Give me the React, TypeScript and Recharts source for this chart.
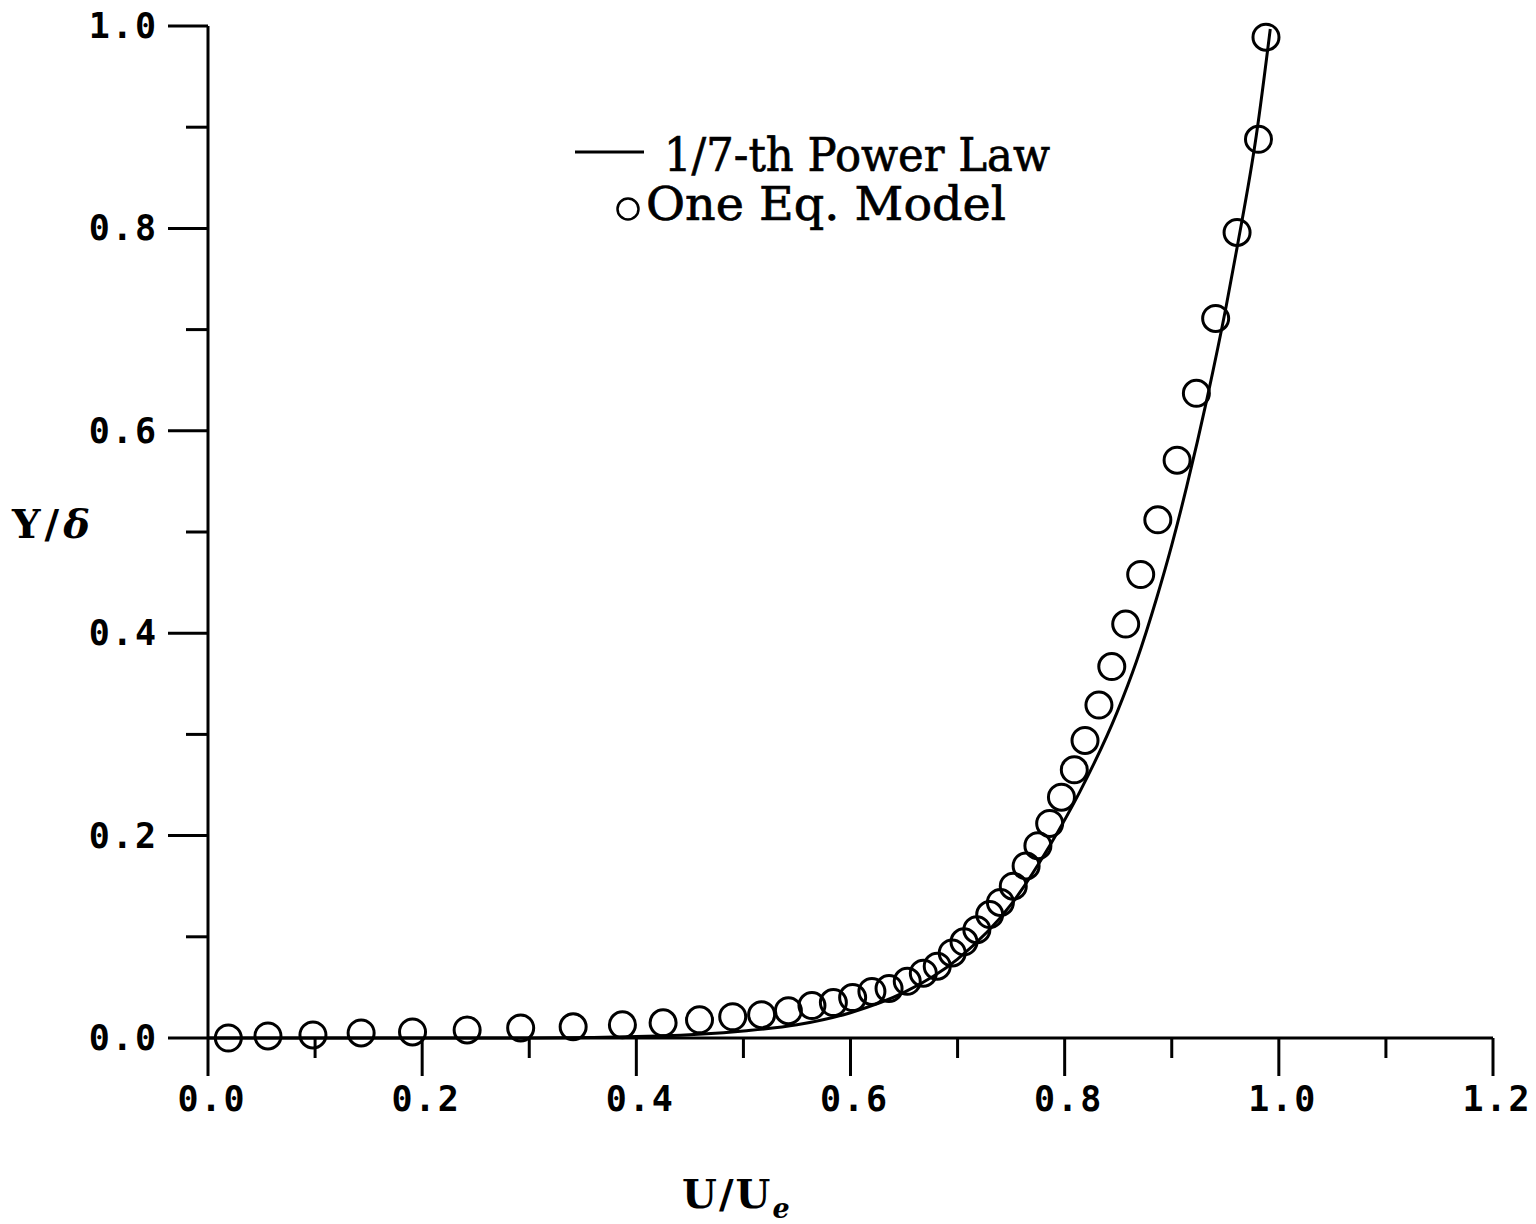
import { ComposedChart, Line, Scatter, XAxis, YAxis, Legend } from 'recharts';

// 1/7-th power law curve
const lawU = [0, 0.3, 0.42, 0.5, 0.55, 0.6, 0.65, 0.7, 0.75, 0.786, 0.814, 0.849, 0.867, 0.886, 0.9, 0.914, 0.933, 0.951, 0.961, 0.979, 0.992];
const lawY = [0, 0, 0.002, 0.007, 0.013, 0.025, 0.045, 0.078, 0.132, 0.19, 0.243, 0.322, 0.372, 0.435, 0.487, 0.545, 0.632, 0.724, 0.781, 0.892, 0.997];

// one equation model (circles)
const modelU = [
  0.019, 0.056, 0.098, 0.143, 0.191, 0.242, 0.292, 0.341, 0.387, 0.425,
  0.459, 0.49, 0.517, 0.542, 0.564, 0.584, 0.602, 0.62, 0.636, 0.653,
  0.668, 0.681, 0.695, 0.706, 0.718, 0.73, 0.74, 0.752, 0.764, 0.775,
  0.786, 0.797, 0.809, 0.819, 0.832, 0.844, 0.857, 0.871, 0.887, 0.905,
  0.923, 0.941, 0.961, 0.981, 0.988,
];
const modelY = [
  0.0, 0.002, 0.003, 0.005, 0.006, 0.008, 0.01, 0.011, 0.013, 0.015,
  0.018, 0.021, 0.023, 0.027, 0.032, 0.035, 0.04, 0.046, 0.049, 0.056,
  0.064, 0.071, 0.084, 0.095, 0.107, 0.122, 0.134, 0.15, 0.17, 0.19,
  0.212, 0.238, 0.265, 0.294, 0.329, 0.367, 0.409, 0.458, 0.512, 0.571,
  0.637, 0.711, 0.796, 0.888, 0.989,
];

const xTicks = [0, 0.1, 0.2, 0.3, 0.4, 0.5, 0.6, 0.7, 0.8, 0.9, 1.0, 1.1, 1.2];
const yTicks = [0, 0.1, 0.2, 0.3, 0.4, 0.5, 0.6, 0.7, 0.8, 0.9, 1.0];

const lawData = lawU.map((u, i) => ({ x: u, y: lawY[i] }));
const modelData = modelU.map((u, i) => ({ x: u, y: modelY[i] }));

const tickFont = {
  fontFamily: '"DejaVu Sans Mono", monospace',
  fontSize: 35,
  fontWeight: 'bold' as const,
  letterSpacing: 2,
};

const isMajor = (v: number) => Math.round(v * 10) % 2 === 0;

const XTick = (props: any) => {
  const { x, y, payload } = props;
  const major = isMajor(payload.value);
  return (
    <g>
      <line x1={x} x2={x} y1={y} y2={y + (major ? 38 : 20)} stroke="#000" strokeWidth={3} />
      {major && (
        <text x={x + 4} y={y + 73} textAnchor="middle" fill="#000" {...tickFont}>
          {payload.value.toFixed(1)}
        </text>
      )}
    </g>
  );
};

const YTick = (props: any) => {
  const { x, y, payload } = props;
  const major = isMajor(payload.value);
  return (
    <g>
      <line x1={x} x2={x - (major ? 40 : 22)} y1={y} y2={y} stroke="#000" strokeWidth={3} />
      {major && (
        <text x={x - 50} y={y + 12} textAnchor="end" fill="#000" {...tickFont}>
          {payload.value.toFixed(1)}
        </text>
      )}
    </g>
  );
};

const Ring = (props: any) => {
  const { cx, cy } = props;
  return <circle cx={cx} cy={cy} r={13} fill="none" stroke="#000" strokeWidth={3} />;
};

const serif = { fontFamily: '"DejaVu Serif", serif' };

const XLabel = (props: any) => {
  const { x, y } = props.viewBox;
  return (
    <text x={x + 474} y={y + 170} fill="#000" {...serif} fontSize={40} fontWeight="bold" letterSpacing={2}>
      U/U
      <tspan fontSize={27} fontStyle="italic" dy={10}>e</tspan>
    </text>
  );
};

const YLabel = (props: any) => {
  const { x, y } = props.viewBox;
  return (
    <text x={x + 12} y={y + 512} fill="#000" {...serif} fontSize={40} fontWeight="bold" letterSpacing={4}>
      Y/<tspan fontStyle="italic">δ</tspan>
    </text>
  );
};

const legendWidths: Record<string, number> = {
  '1/7-th Power Law': 386,
  'One Eq. Model': 360,
};

const LegendBox = (props: any) => {
  const items = props.payload || [];
  return (
    <svg width={540} height={130}>
      {items.map((item: any, i: number) => {
        const base = 61 + i * 49;
        const isLine = item.type === 'line';
        return (
          <g key={item.value}>
            {isLine ? (
              <line x1={15} x2={84} y1={base - 19} y2={base - 19} stroke="#000" strokeWidth={3} />
            ) : (
              <circle cx={68} cy={base - 11} r={10.5} fill="none" stroke="#000" strokeWidth={2.5} />
            )}
            <text
              x={isLine ? 104 : 86}
              y={base}
              fill="#000"
              {...serif}
              fontSize={46}
              stroke="#000"
              strokeWidth={0.7}
              textLength={legendWidths[item.value]}
              lengthAdjust="spacingAndGlyphs"
            >
              {item.value}
            </text>
          </g>
        );
      })}
    </svg>
  );
};

export default function App() {
  return (
    <div style={{ position: 'absolute', left: 0, top: 0, width: 1536, height: 1224, background: '#fff' }}>
      <ComposedChart width={1536} height={1224} margin={{ top: 26, right: 43, bottom: 0, left: 0 }}>
        <XAxis
          type="number"
          dataKey="x"
          domain={[0, 1.2]}
          ticks={xTicks}
          interval={0}
          height={186}
          tickSize={0}
          tickMargin={0}
          tickLine={false}
          axisLine={{ stroke: '#000', strokeWidth: 3 }}
          tick={<XTick />}
          label={XLabel}
        />
        <YAxis
          type="number"
          dataKey="y"
          domain={[0, 1]}
          ticks={yTicks}
          interval={0}
          width={208}
          tickSize={0}
          tickMargin={0}
          tickLine={false}
          axisLine={{ stroke: '#000', strokeWidth: 3 }}
          tick={<YTick />}
          label={YLabel}
        />
        <Legend
          layout="vertical"
          align="center"
          verticalAlign="middle"
          content={<LegendBox />}
          wrapperStyle={{ position: 'absolute', left: 560, top: 110, width: 540, height: 130 }}
        />
        <Line
          data={lawData}
          dataKey="y"
          name="1/7-th Power Law"
          type="monotone"
          stroke="#000"
          strokeWidth={3}
          dot={false}
          legendType="line"
          isAnimationActive={false}
        />
        <Scatter
          data={modelData}
          dataKey="y"
          name="One Eq. Model"
          shape={<Ring />}
          legendType="circle"
          isAnimationActive={false}
        />
      </ComposedChart>
    </div>
  );
}
